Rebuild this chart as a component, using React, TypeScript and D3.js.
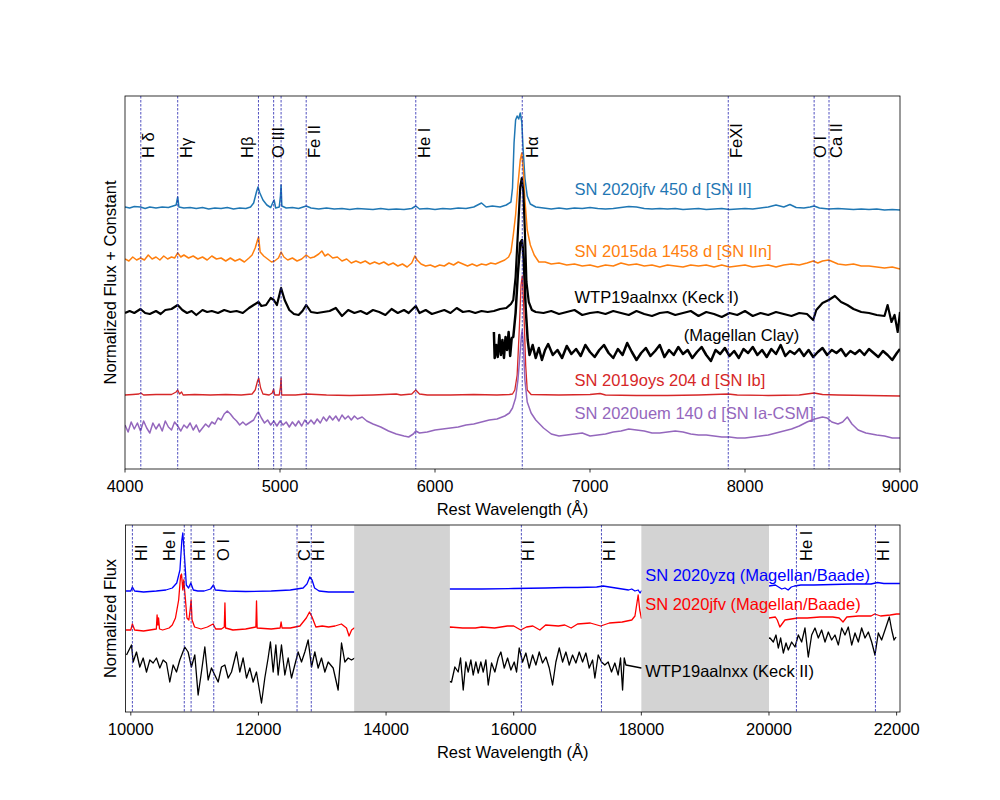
import * as d3 from "d3"

type Pt = [number, number]

// ---- optical panel data (wavelength in Å, flux relative to continuum) ----
const jfvOpt: Pt[] = [
  [4000, 0.1], [4030, 0.0], [4060, 0.15], [4100, 0.1], [4130, -0.05], [4160, 0.1], [4200, 0.0], [4240, 0.1],
  [4280, 0.05], [4310, 0.2], [4330, 0.3], [4340, 1.1], [4348, 0.1], [4380, 0.0], [4420, 0.05], [4460, -0.05],
  [4500, 0.05], [4540, -0.1], [4580, 0.0], [4620, -0.05], [4660, 0.05], [4700, -0.1], [4740, 0.0], [4780, -0.05],
  [4810, 0.1], [4830, 0.5], [4848, 1.6], [4858, 2.1], [4870, 1.5], [4890, 0.8], [4915, 0.3], [4940, 0.05],
  [4955, 0.6], [4962, 0.8], [4972, 0.0], [4995, 0.1], [5003, 1.2], [5007, 2.3], [5012, 0.2], [5040, 0.0],
  [5080, 0.05], [5120, -0.05], [5169, 0.2], [5200, 0.0], [5250, -0.1], [5300, 0.0], [5350, -0.1], [5400, -0.05],
  [5450, -0.15], [5500, -0.05], [5550, -0.1], [5600, -0.15], [5650, -0.05], [5700, -0.15], [5750, -0.1],
  [5800, -0.15], [5850, -0.05], [5876, 0.2], [5900, -0.1], [5950, -0.05], [6000, -0.15], [6050, -0.05],
  [6100, -0.1], [6150, 0.0], [6200, -0.05], [6250, 0.1], [6300, 0.5], [6330, 0.1], [6370, 0.2], [6420, 0.1],
  [6460, 0.3], [6490, 0.6], [6500, 2.0], [6510, 6.5], [6520, 8.8], [6530, 9.2], [6540, 8.9], [6550, 9.5],
  [6560, 8.6], [6568, 6.0], [6580, 3.0], [6595, 1.2], [6615, 0.4], [6650, 0.1], [6700, 0.0], [6750, -0.1],
  [6800, 0.0], [6850, -0.1], [6900, 0.0], [6950, -0.05], [7000, 0.05], [7050, -0.05], [7100, -0.1],
  [7150, -0.05], [7200, 0.05], [7250, 0.15], [7300, 0.1], [7350, -0.05], [7400, -0.1], [7450, -0.05],
  [7500, -0.1], [7550, -0.05], [7600, -0.15], [7650, -0.1], [7700, -0.05], [7750, -0.15], [7800, -0.1],
  [7850, -0.05], [7900, -0.15], [7950, -0.1], [8000, -0.05], [8050, -0.1], [8100, 0.0], [8150, 0.1],
  [8200, 0.3], [8250, 0.1], [8290, 0.35], [8330, 0.05], [8380, 0.0], [8420, 0.1], [8446, 0.2], [8480, 0.0],
  [8540, -0.1], [8600, -0.05], [8650, -0.1], [8700, -0.15], [8750, -0.1], [8800, -0.15], [8850, -0.1],
  [8900, -0.2], [8950, -0.15], [9000, -0.2],
]

const da15Opt: Pt[] = [
  [4000, 0.1], [4025, -0.1], [4050, 0.3], [4075, 0.0], [4100, 0.2], [4125, 0.0], [4150, 0.5], [4175, 0.1],
  [4200, 0.3], [4225, 0.0], [4250, 0.4], [4275, 0.1], [4300, 0.3], [4320, 0.2], [4340, 0.7], [4360, 0.3],
  [4380, 0.5], [4410, 0.2], [4440, 0.4], [4470, 0.1], [4500, 0.3], [4530, 0.0], [4560, 0.4], [4590, 0.1],
  [4620, 0.2], [4650, -0.1], [4680, 0.2], [4710, -0.1], [4740, 0.1], [4770, -0.2], [4800, 0.2], [4820, 0.5],
  [4840, 1.2], [4855, 2.0], [4862, 2.3], [4872, 0.8], [4895, 0.4], [4920, 0.1], [4945, -0.2], [4965, -0.1],
  [4990, 0.2], [5007, 0.8], [5025, 0.3], [5050, 0.0], [5080, 0.2], [5110, -0.1], [5140, 0.1], [5169, 0.5],
  [5195, 0.2], [5220, 0.3], [5250, 0.6], [5270, 0.9], [5290, 0.4], [5310, 0.6], [5340, 0.2], [5370, 0.3],
  [5400, -0.1], [5430, 0.1], [5460, -0.3], [5490, -0.1], [5520, -0.3], [5550, -0.1], [5580, -0.4],
  [5610, -0.2], [5640, -0.4], [5670, -0.2], [5700, -0.5], [5730, -0.3], [5760, -0.6], [5790, -0.4],
  [5820, -0.7], [5850, -0.3], [5870, 0.4], [5885, 0.0], [5910, -0.4], [5940, -0.6], [5970, -0.5],
  [6000, -0.7], [6030, -0.5], [6060, -0.6], [6090, -0.3], [6120, -0.5], [6150, -0.2], [6180, -0.4],
  [6210, -0.6], [6240, -0.4], [6270, -0.6], [6300, -0.4], [6330, -0.5], [6360, -0.3], [6390, -0.4],
  [6420, -0.2], [6450, 0.0], [6475, 0.3], [6490, 0.8], [6505, 2.5], [6520, 4.5], [6535, 7.5], [6550, 10.0],
  [6560, 10.7], [6570, 9.0], [6580, 6.0], [6595, 3.0], [6615, 1.5], [6640, 0.5], [6670, -0.2], [6710, -0.2],
  [6750, -0.4], [6800, -0.3], [6850, -0.5], [6900, -0.4], [6950, -0.6], [7000, -0.5], [7050, -0.7],
  [7100, -0.5], [7150, -0.6], [7200, -0.3], [7250, -0.5], [7300, -0.4], [7350, -0.6], [7400, -0.5],
  [7450, -0.7], [7500, -0.5], [7550, -0.6], [7600, -0.7], [7650, -0.5], [7700, -0.6], [7750, -0.5],
  [7800, -0.7], [7850, -0.5], [7900, -0.7], [7950, -0.6], [8000, -0.5], [8050, -0.7], [8100, -0.6],
  [8150, -0.5], [8200, -0.7], [8250, -0.5], [8300, -0.4], [8350, -0.5], [8400, -0.3], [8440, -0.1],
  [8470, -0.3], [8500, -0.1], [8540, 0.0], [8570, -0.2], [8600, -0.4], [8650, -0.5], [8700, -0.4],
  [8750, -0.6], [8800, -0.6], [8850, -0.7], [8900, -0.8], [8950, -0.7], [9000, -0.9],
]

const wtpKeck1: Pt[] = [
  [4000, -0.1], [4030, 0.1], [4060, -0.1], [4100, 0.3], [4130, -0.1], [4160, -0.2], [4200, 0.1], [4230, -0.2],
  [4260, 0.2], [4300, 0.3], [4340, 0.7], [4370, 0.2], [4400, -0.1], [4430, 0.1], [4460, -0.3], [4500, 0.2],
  [4530, 0.0], [4560, 0.1], [4600, -0.1], [4640, 0.2], [4680, 0.0], [4720, 0.1], [4760, -0.1], [4800, 0.4],
  [4830, 0.7], [4861, 1.0], [4880, 0.6], [4910, 0.7], [4940, 1.4], [4960, 1.2], [4980, 0.7], [5007, 2.4],
  [5030, 1.2], [5060, 0.2], [5090, -0.2], [5120, -0.3], [5145, 0.1], [5169, 0.7], [5200, 0.0], [5240, -0.1],
  [5280, 0.0], [5320, 0.1], [5360, 0.4], [5400, -0.4], [5440, 0.2], [5480, -0.1], [5520, 0.1], [5560, -0.2],
  [5600, 0.2], [5640, 0.0], [5680, -0.3], [5720, 0.3], [5760, -0.1], [5800, 0.2], [5830, -0.1], [5876, 0.6],
  [5900, -0.1], [5940, 0.2], [5980, -0.2], [6020, 0.0], [6060, 0.2], [6100, -0.1], [6140, 0.4], [6180, 0.0],
  [6220, 0.1], [6260, -0.1], [6300, 0.1], [6340, 0.0], [6380, 0.1], [6420, 0.3], [6460, 0.4], [6490, 0.8],
  [6505, 1.2], [6520, 3.5], [6535, 8.0], [6550, 12.5], [6560, 13.4], [6570, 12.0], [6580, 8.0], [6590, 3.0],
  [6605, 1.0], [6625, 0.2], [6650, 0.0], [6700, -0.1], [6750, 0.1], [6800, -0.2], [6850, 0.0], [6900, 0.2],
  [6950, -0.3], [7000, -0.1], [7050, 0.0], [7100, -0.2], [7150, 0.1], [7200, -0.1], [7250, -0.3], [7300, 0.1],
  [7350, -0.2], [7400, -0.4], [7450, -0.1], [7500, 0.0], [7550, -0.3], [7600, -0.1], [7650, 0.1], [7700, -0.4],
  [7750, 0.0], [7800, -0.2], [7850, -0.5], [7900, -0.1], [7950, -0.3], [8000, 0.1], [8050, -0.4], [8100, -0.1],
  [8150, -0.3], [8200, 0.0], [8250, -0.2], [8300, -0.4], [8350, -0.1], [8400, -0.2], [8440, -0.8], [8460, 0.2],
  [8500, 0.9], [8540, 1.2], [8580, 1.6], [8620, 1.0], [8660, 0.7], [8700, 0.3], [8750, 0.0], [8800, -0.1],
  [8850, -0.3], [8900, -0.4], [8920, 0.7], [8945, -1.0], [8965, -0.3], [8985, -2.0], [9000, 0.0],
]

const wtpClay: Pt[] = [
  [6380, 2.1], [6385, -0.5], [6395, 0.8], [6405, -0.4], [6415, 1.8], [6425, -0.2], [6435, 1.3], [6445, -0.5],
  [6455, 1.6], [6465, 0.3], [6475, 2.1], [6485, -0.3], [6495, 1.5], [6505, 1.6], [6520, 4.0], [6535, 8.0],
  [6550, 11.0], [6562, 11.3], [6572, 9.5], [6585, 4.5], [6598, 1.3], [6610, -0.2], [6630, 0.8], [6650, -0.5],
  [6670, 0.5], [6690, -0.7], [6710, 0.3], [6730, 0.9], [6760, -0.2], [6790, 0.3], [6820, -0.5], [6850, 0.7],
  [6880, -0.1], [6910, 0.4], [6940, -0.3], [6970, 0.8], [7000, 0.1], [7030, -0.4], [7060, 0.3], [7090, 0.8],
  [7120, 0.0], [7150, -0.5], [7180, 0.4], [7210, -0.2], [7240, 1.0], [7270, 0.1], [7300, -0.7], [7330, 0.0],
  [7360, 0.5], [7390, -0.3], [7420, 0.2], [7450, 0.8], [7480, -0.4], [7510, 0.3], [7540, -0.2], [7570, 0.6],
  [7600, -0.1], [7630, 0.3], [7660, -0.5], [7690, 0.1], [7720, 0.6], [7750, -0.2], [7780, -0.8], [7810, 0.3],
  [7840, -0.1], [7870, 0.5], [7900, -0.3], [7930, 0.2], [7960, -0.5], [7990, 0.4], [8020, 0.0], [8050, 0.6],
  [8080, -0.2], [8110, 0.3], [8140, -0.4], [8170, 0.4], [8200, -0.1], [8230, 0.8], [8260, -0.3], [8290, 0.2],
  [8320, -0.1], [8350, 0.4], [8380, -0.3], [8410, 0.3], [8440, -0.4], [8470, 0.1], [8500, 0.5], [8530, -0.2],
  [8560, 0.3], [8590, 0.0], [8620, 0.4], [8650, -0.3], [8680, 0.2], [8710, -0.1], [8740, 0.3], [8770, -0.2],
  [8800, 0.4], [8830, 0.0], [8860, -0.4], [8890, 0.2], [8920, -0.2], [8950, -0.7], [8980, 0.0], [9000, 0.4],
]

const oys19Opt: Pt[] = [
  [4000, 0.0], [4050, 0.05], [4090, 0.1], [4102, 0.2], [4120, 0.0], [4200, 0.05], [4300, 0.05], [4330, 0.3],
  [4340, 0.5], [4352, 0.1], [4365, 0.3], [4375, 0.0], [4450, 0.05], [4550, 0.0], [4650, 0.05], [4750, 0.0],
  [4820, 0.1], [4840, 0.5], [4855, 1.4], [4863, 1.7], [4875, 0.7], [4890, 0.1], [4930, 0.0], [4950, 0.2],
  [4959, 0.6], [4966, 0.0], [4995, 0.0], [5003, 0.8], [5007, 1.7], [5011, 0.0], [5100, 0.0], [5169, 0.1],
  [5300, 0.0], [5450, -0.05], [5600, 0.0], [5750, 0.1], [5780, 0.0], [5850, 0.1], [5876, 0.5], [5900, 0.1],
  [5950, 0.0], [6100, 0.0], [6250, 0.05], [6400, 0.0], [6480, 0.05], [6500, 0.1], [6515, 0.5], [6530, 2.0],
  [6545, 7.0], [6555, 11.0], [6563, 11.9], [6572, 9.0], [6585, 3.0], [6595, 0.5], [6620, 0.05], [6800, 0.0],
  [7000, 0.05], [7065, 0.15], [7100, 0.0], [7300, -0.05], [7500, -0.05], [7700, 0.0], [7892, 0.1],
  [7950, 0.0], [8150, -0.05], [8350, 0.0], [8446, 0.2], [8500, 0.05], [8600, 0.0], [8800, -0.05], [9000, -0.1],
]

const uem20Opt: Pt[] = [
  [4000, 0.2], [4020, -0.5], [4040, 0.5], [4060, -0.2], [4080, 0.4], [4100, -0.4], [4120, 0.6], [4140, -0.1],
  [4160, -0.6], [4180, 0.4], [4200, -0.2], [4220, 0.3], [4240, -0.4], [4260, 0.6], [4280, 0.0], [4300, -0.3],
  [4320, 0.5], [4340, 0.1], [4360, -0.4], [4380, 0.2], [4400, -0.1], [4420, 0.4], [4440, -0.3], [4460, 0.2],
  [4480, -0.5], [4500, -0.1], [4520, 0.3], [4540, 0.0], [4560, 0.5], [4580, 0.3], [4600, 0.9], [4620, 0.7],
  [4640, 1.3], [4660, 1.6], [4680, 1.3], [4700, 0.9], [4720, 0.6], [4740, 0.2], [4760, 0.5], [4780, 0.2],
  [4800, 0.4], [4830, 0.7], [4850, 1.3], [4861, 1.5], [4880, 0.9], [4900, 0.4], [4920, 0.7], [4940, 0.2],
  [4960, 0.6], [4980, 0.1], [5000, 0.6], [5020, 0.2], [5040, 0.5], [5060, 0.0], [5080, 0.5], [5100, 0.1],
  [5120, 0.6], [5140, 0.1], [5160, 0.7], [5180, 0.3], [5200, 0.7], [5220, 0.3], [5240, 0.8], [5260, 0.4],
  [5280, 1.0], [5300, 0.6], [5320, 1.1], [5340, 0.7], [5360, 1.1], [5380, 0.6], [5400, 1.2], [5420, 0.8],
  [5440, 1.1], [5460, 0.7], [5480, 1.1], [5500, 0.8], [5530, 1.0], [5560, 0.6], [5600, 0.3], [5650, 0.0],
  [5700, -0.4], [5750, -0.7], [5800, -0.9], [5830, -1.0], [5860, -0.7], [5876, -0.4], [5900, -0.6],
  [5950, -0.5], [6000, -0.3], [6050, -0.2], [6100, -0.1], [6150, 0.0], [6200, 0.2], [6250, 0.3], [6300, 0.5],
  [6350, 0.7], [6400, 0.8], [6450, 1.1], [6480, 1.4], [6500, 1.9], [6520, 2.9], [6535, 4.7], [6548, 7.2],
  [6558, 9.2], [6563, 9.7], [6570, 8.2], [6580, 4.7], [6595, 2.5], [6620, 1.4], [6650, 0.7], [6700, -0.1],
  [6750, -0.7], [6800, -0.9], [6850, -0.8], [6900, -0.7], [6950, -0.6], [7000, -0.9], [7050, -0.8],
  [7100, -0.7], [7150, -0.5], [7200, -0.4], [7250, -0.2], [7300, -0.3], [7350, -0.4], [7400, -0.6],
  [7450, -0.6], [7500, -0.5], [7550, -0.4], [7600, -0.5], [7650, -0.7], [7700, -0.8], [7750, -0.8],
  [7800, -0.9], [7850, -1.0], [7900, -1.0], [7950, -1.1], [8000, -1.1], [8050, -1.0], [8100, -0.9],
  [8150, -0.8], [8200, -0.6], [8250, -0.4], [8300, -0.2], [8350, 0.1], [8400, 0.5], [8450, 0.8], [8500, 1.0],
  [8530, 0.9], [8560, 0.5], [8600, 0.3], [8630, 0.5], [8660, 1.0], [8690, 0.3], [8730, -0.3], [8780, -0.6],
  [8850, -0.8], [8900, -0.9], [8950, -1.1], [9000, -1.1],
]

// ---- near-IR panel data ----
const yzq20Nir: Pt[] = [
  [9925, 0.0], [10000, 0.0], [10025, 0.4], [10060, 0.0], [10200, -0.1], [10400, 0.0], [10550, 0.1],
  [10650, 0.3], [10720, 0.8], [10770, 2.1], [10800, 5.1], [10815, 5.8], [10840, 3.6], [10870, 0.6],
  [10905, 0.3], [10940, 0.8], [10980, 0.1], [11050, 0.0], [11150, 0.0], [11250, 0.2], [11295, 0.6],
  [11325, 0.1], [11500, 0.0], [11800, -0.05], [12200, 0.0], [12500, 0.1], [12700, 0.3], [12760, 0.7],
  [12805, 1.4], [12840, 1.1], [12880, 0.3], [12950, 0.0], [13100, -0.1], [13300, -0.1], [13500, -0.1],
  [15000, 0.2], [15500, 0.2], [16000, 0.25], [16500, 0.3], [16800, 0.35], [17000, 0.35], [17300, 0.4],
  [17400, 0.5], [17500, 0.4], [17600, 0.3], [17700, 0.2], [17800, 0.1], [17850, 0.2], [17900, 0.0],
  [17950, 0.1], [17980, -0.2], [18000, 0.0], [20000, 0.5], [20100, 0.6], [20150, 0.4], [20200, 0.2],
  [20250, 0.3], [20300, 0.1], [20350, 0.4], [20400, 0.5], [20500, 0.6], [20700, 0.6], [21000, 0.65],
  [21300, 0.7], [21600, 0.7], [21700, 0.85], [21800, 0.75], [22000, 0.75], [22050, 0.75],
]

const jfvNir: Pt[] = [
  [9925, 0.0], [10000, 0.0], [10025, 0.6], [10060, 0.0], [10200, -0.1], [10300, 0.0], [10400, 0.1],
  [10412, 1.5], [10425, 0.5], [10435, 1.2], [10450, 0.1], [10500, 0.0], [10600, 0.2], [10650, 0.5],
  [10700, 1.2], [10750, 3.0], [10780, 5.4], [10795, 5.6], [10815, 4.0], [10830, 5.0], [10850, 3.5],
  [10880, 1.2], [10910, 1.0], [10930, 2.0], [10945, 3.0], [10960, 1.0], [11000, 0.3], [11100, 0.1],
  [11200, 0.3], [11290, 0.6], [11330, 0.1], [11420, 0.1], [11465, 0.3], [11475, 2.7], [11485, 0.2],
  [11600, 0.0], [11800, 0.1], [11960, 0.3], [11970, 2.9], [11980, 0.2], [12200, 0.1], [12340, 0.2],
  [12355, 0.8], [12370, 0.2], [12500, 0.2], [12650, 0.4], [12750, 1.2], [12800, 1.8], [12840, 1.3],
  [12900, 0.3], [13000, 0.4], [13100, 0.3], [13200, 0.4], [13300, 0.6], [13380, 0.2], [13420, -0.6],
  [13460, 0.0], [13500, 0.2], [15000, 0.3], [15200, 0.2], [15400, 0.2], [15500, 0.3], [15700, 0.2],
  [15900, 0.4], [16000, 0.4], [16110, 0.0], [16200, 0.3], [16300, 0.4], [16410, 0.0], [16500, 0.5],
  [16700, 0.4], [16800, 0.5], [16900, 0.2], [17000, 0.6], [17200, 0.7], [17362, 0.4], [17500, 0.7],
  [17700, 0.8], [17850, 1.0], [17900, 1.4], [17950, 3.5], [17975, 2.0], [18000, 1.2], [20000, 1.2],
  [20100, 1.3], [20130, 1.0], [20170, 0.3], [20250, 1.0], [20350, 1.1], [20450, 1.2], [20600, 1.2],
  [20800, 1.3], [21000, 1.3], [21100, 1.2], [21160, 0.8], [21220, 1.3], [21400, 1.4], [21600, 1.4],
  [21655, 1.6], [21750, 1.4], [21900, 1.5], [22000, 1.6], [22050, 1.6],
]

const wtpKeck2: Pt[] = [
  [9933, 0.5], [10011, 1.5], [10037, -0.2], [10089, 0.8], [10141, -0.7], [10194, 0.2], [10246, -1.2],
  [10298, 0.0], [10350, -0.3], [10402, 0.2], [10455, -0.8], [10507, 0.0], [10559, -0.3], [10611, -2.2],
  [10663, -0.5], [10716, -1.2], [10768, 0.0], [10846, 1.3], [10898, 0.8], [10950, -0.7], [11003, 0.5],
  [11055, -3.5], [11107, -1.2], [11160, 1.3], [11212, -2.0], [11264, -0.8], [11316, -1.5], [11369, -2.2],
  [11421, -0.7], [11474, -0.5], [11526, -1.8], [11578, -1.2], [11656, 0.8], [11708, -1.2], [11760, 0.2],
  [11813, -1.8], [11865, -0.8], [11917, -2.2], [11969, -1.2], [12048, -4.3], [12100, -1.8], [12152, 0.2],
  [12188, 1.8], [12231, -1.2], [12273, 1.5], [12309, -1.5], [12361, 1.5], [12414, -1.5], [12466, 0.2],
  [12518, -1.8], [12570, -0.5], [12622, 0.8], [12675, -0.2], [12727, 0.8], [12779, 2.0], [12832, -0.7],
  [12884, 0.8], [12936, -0.8], [12988, 0.2], [13041, -1.2], [13093, -0.2], [13171, -0.8], [13249, -3.0],
  [13302, 1.7], [13354, -0.2], [13406, 0.2], [13458, 0.0], [13510, 0.2],
  [15026, -2.2], [15078, -0.7], [15130, -1.2], [15167, 0.2], [15209, -3.0], [15250, -0.2], [15287, -1.2],
  [15329, 0.0], [15365, -1.5], [15407, -0.2], [15444, -1.3], [15485, -0.2], [15522, -1.2], [15564, 0.0],
  [15601, -2.5], [15653, -0.3], [15705, -1.2], [15757, 0.2], [15799, 0.8], [15852, -0.8], [15904, 0.2],
  [15956, -1.0], [16008, -0.2], [16045, -1.2], [16086, 1.2], [16139, -0.2], [16191, 0.7], [16243, -0.8],
  [16296, 0.5], [16348, -0.5], [16400, 0.8], [16452, -0.3], [16505, 0.3], [16557, -0.8], [16609, -2.5],
  [16661, -0.2], [16714, 1.2], [16766, -0.2], [16818, 0.8], [16870, -0.5], [16922, 0.5], [16975, -0.3],
  [17027, 0.8], [17079, -0.2], [17131, 0.7], [17183, -0.8], [17236, 0.0], [17272, -1.8], [17324, 0.5],
  [17376, -0.2], [17428, -0.5], [17480, -0.2], [17533, -1.2], [17585, -0.3], [17637, -1.5], [17674, 0.2],
  [17706, -3.0], [17732, 0.2], [17758, -0.5], [18000, -0.8],
  [20016, 2.2], [20068, 1.8], [20110, 2.5], [20146, 1.2], [20183, 2.2], [20225, 0.7], [20267, 1.7],
  [20303, 1.0], [20355, 1.8], [20408, 1.3], [20460, 2.5], [20512, 1.8], [20564, 3.2], [20616, 0.3],
  [20669, 2.5], [20721, 3.2], [20773, 2.2], [20825, 3.0], [20878, 1.8], [20930, 2.8], [20982, 2.0],
  [21034, 2.5], [21087, 1.5], [21139, 3.2], [21191, 2.5], [21243, 3.3], [21296, 1.5], [21348, 2.7],
  [21400, 1.8], [21452, 3.2], [21505, 2.2], [21557, 2.8], [21609, 1.8], [21661, 0.5], [21713, 2.7],
  [21765, 2.0], [21818, 3.0], [21886, 4.3], [21923, 3.0], [21960, 2.0], [21991, 2.3],
]

// ---- line identifications, ticks, labels ----
const optLineWaves = [4102, 4340, 4861, 4959, 5007, 5169, 5876, 6563, 7892, 8446, 8542]
const optLineNames = ["H δ", "Hγ", "Hβ", "O III", "Fe II", "He I", "Hα", "FeXI", "O I", "Ca II"]
const optNameWaves = [4148, 4394, 4784, 4984, 5219, 5926, 6623, 7942, 8487, 8584]

const nirLineWaves = [10025, 10838, 10945, 11300, 12605, 12828, 16120, 17375, 20430, 21668]
const nirLineNames = ["HI", "He I", "H I", "O I", "C I", "H I", "H I", "H I", "He I", "H I"]
const nirNameWaves = [10160, 10606, 11069, 11437, 12714, 12941, 16224, 17493, 20580, 21787]

const telluricBands: [number, number][] = [[13500, 15000], [18000, 20000]]

const optTicks = [4000, 5000, 6000, 7000, 8000, 9000]
const nirTicks = [10000, 12000, 14000, 16000, 18000, 20000, 22000]

const optSeries = [
  { name: "SN 2020jfv 450 d [SN II]", data: jfvOpt, offset: 26.1, color: "#1f77b4", width: 1.5, labelWave: 6900, labelY: 28.0 },
  { name: "SN 2015da 1458 d [SN IIn]", data: da15Opt, offset: 20.9, color: "#ff7f0e", width: 1.5, labelWave: 6900, labelY: 21.8 },
  { name: "WTP19aalnxx (Keck I)", data: wtpKeck1, offset: 15.7, color: "#000000", width: 2.2, labelWave: 6900, labelY: 17.2 },
  { name: "(Magellan Clay)", data: wtpClay, offset: 11.6, color: "#000000", width: 2.5, labelWave: 7605, labelY: 13.4 },
  { name: "SN 2019oys 204 d [SN Ib]", data: oys19Opt, offset: 7.4, color: "#d62728", width: 1.3, labelWave: 6900, labelY: 8.9 },
  { name: "SN 2020uem 140 d [SN Ia-CSM]", data: uem20Opt, offset: 4.2, color: "#9467bd", width: 1.5, labelWave: 6900, labelY: 5.6 },
]

const nirSeries = [
  { name: "SN 2020yzq (Magellan/Baade)", data: yzq20Nir, offset: 12.1, color: "#0000ff", width: 1.3, labelWave: 18060, labelY: 13.7 },
  { name: "SN 2020jfv (Magellan/Baade)", data: jfvNir, offset: 8.2, color: "#ff0000", width: 1.3, labelWave: 18060, labelY: 10.8 },
  { name: "WTP19aalnxx (Keck II)", data: wtpKeck2, offset: 5.2, color: "#000000", width: 1.3, labelWave: 18060, labelY: 4.1 },
]

const FONT = "'Liberation Sans', Arial, Helvetica, sans-serif"
const FS = 16.5
const LINE_ID = "#2424b0"

const optBox = { left: 125, right: 900, top: 96, bottom: 469 }
const nirBox = { left: 125.5, right: 900, top: 525, bottom: 712 }

export default function App() {
  const xOpt = d3.scaleLinear().domain([4000, 9000]).range([optBox.left, optBox.right])
  const yOpt = d3.scaleLinear().domain([0, 37.3]).range([optBox.bottom, optBox.top])
  const xNir = d3.scaleLinear().domain([9917, 22053]).range([nirBox.left, nirBox.right])
  const yNir = d3.scaleLinear().domain([0, 18.7]).range([nirBox.bottom, nirBox.top])

  const pathFor = (x: d3.ScaleLinear<number, number>, y: d3.ScaleLinear<number, number>, data: Pt[], offset: number) =>
    d3
      .line<Pt>()
      .x((d) => x(d[0]))
      .y((d) => y(d[1] + offset))(data) ?? ""

  const xAxis = (
    x: d3.ScaleLinear<number, number>,
    ticks: number[],
    box: typeof optBox,
    key: string,
  ) => (
    <g key={key}>
      {ticks.map((t) => (
        <g key={t}>
          <line x1={x(t)} x2={x(t)} y1={box.bottom} y2={box.bottom + 3.5} stroke="#000" strokeWidth={0.8} />
          <text x={x(t)} y={box.bottom + 22.5} textAnchor="middle" fontSize={FS} fontFamily={FONT}>
            {t}
          </text>
        </g>
      ))}
      <text x={(box.left + box.right) / 2} y={box.bottom + 46} textAnchor="middle" fontSize={FS} fontFamily={FONT}>
        Rest Wavelength (Å)
      </text>
    </g>
  )

  return (
    <svg width={1000} height={800} style={{ position: "absolute", left: 0, top: 0, background: "#fff" }}>
      <defs>
        <clipPath id="clip-opt">
          <rect x={optBox.left} y={optBox.top} width={optBox.right - optBox.left} height={optBox.bottom - optBox.top} />
        </clipPath>
        <clipPath id="clip-nir">
          <rect x={nirBox.left} y={nirBox.top} width={nirBox.right - nirBox.left} height={nirBox.bottom - nirBox.top} />
        </clipPath>
      </defs>

      {/* optical panel */}
      <g clipPath="url(#clip-opt)">
        {optSeries.map((s) => (
          <path key={s.name} d={pathFor(xOpt, yOpt, s.data, s.offset)} fill="none" stroke={s.color} strokeWidth={s.width} strokeLinejoin="round" />
        ))}
        {optLineWaves.map((w) => (
          <line key={w} x1={xOpt(w)} x2={xOpt(w)} y1={optBox.top} y2={optBox.bottom} stroke={LINE_ID} strokeWidth={0.8} strokeDasharray="2.5,1.5" />
        ))}
      </g>
      {optLineNames.map((n, i) => (
        <text key={i} transform={`translate(${xOpt(optNameWaves[i])},158) rotate(-90)`} dominantBaseline="central" fontSize={FS} fontFamily={FONT}>
          {n}
        </text>
      ))}
      {optSeries.map((s) => (
        <text key={s.name} x={xOpt(s.labelWave)} y={yOpt(s.labelY)} dominantBaseline="central" fontSize={FS} fontFamily={FONT} fill={s.color}>
          {s.name}
        </text>
      ))}
      <rect x={optBox.left} y={optBox.top} width={optBox.right - optBox.left} height={optBox.bottom - optBox.top} fill="none" stroke="#000" strokeWidth={0.8} />
      {xAxis(xOpt, optTicks, optBox, "ax-opt")}
      <text transform={`translate(110,${(optBox.top + optBox.bottom) / 2}) rotate(-90)`} textAnchor="middle" dominantBaseline="central" fontSize={FS} fontFamily={FONT}>
        Normalized Flux + Constant
      </text>

      {/* near-IR panel */}
      <g clipPath="url(#clip-nir)">
        {nirSeries.map((s) => (
          <path key={s.name} d={pathFor(xNir, yNir, s.data, s.offset)} fill="none" stroke={s.color} strokeWidth={s.width} strokeLinejoin="round" />
        ))}
        {telluricBands.map(([a, b]) => (
          <rect key={a} x={xNir(a)} y={nirBox.top} width={xNir(b) - xNir(a)} height={nirBox.bottom - nirBox.top} fill="#d3d3d3" />
        ))}
        {nirLineWaves.map((w) => (
          <line key={w} x1={xNir(w)} x2={xNir(w)} y1={nirBox.top} y2={nirBox.bottom} stroke={LINE_ID} strokeWidth={0.8} strokeDasharray="2.5,1.5" />
        ))}
      </g>
      {nirLineNames.map((n, i) => (
        <text key={i} transform={`translate(${xNir(nirNameWaves[i])},561) rotate(-90)`} dominantBaseline="central" fontSize={FS} fontFamily={FONT}>
          {n}
        </text>
      ))}
      {nirSeries.map((s) => (
        <text key={s.name} x={xNir(s.labelWave)} y={yNir(s.labelY)} dominantBaseline="central" fontSize={FS} fontFamily={FONT} fill={s.color}>
          {s.name}
        </text>
      ))}
      <rect x={nirBox.left} y={nirBox.top} width={nirBox.right - nirBox.left} height={nirBox.bottom - nirBox.top} fill="none" stroke="#000" strokeWidth={0.8} />
      {xAxis(xNir, nirTicks, nirBox, "ax-nir")}
      <text transform={`translate(110,${(nirBox.top + nirBox.bottom) / 2}) rotate(-90)`} textAnchor="middle" dominantBaseline="central" fontSize={FS} fontFamily={FONT}>
        Normalized Flux
      </text>
    </svg>
  )
}
